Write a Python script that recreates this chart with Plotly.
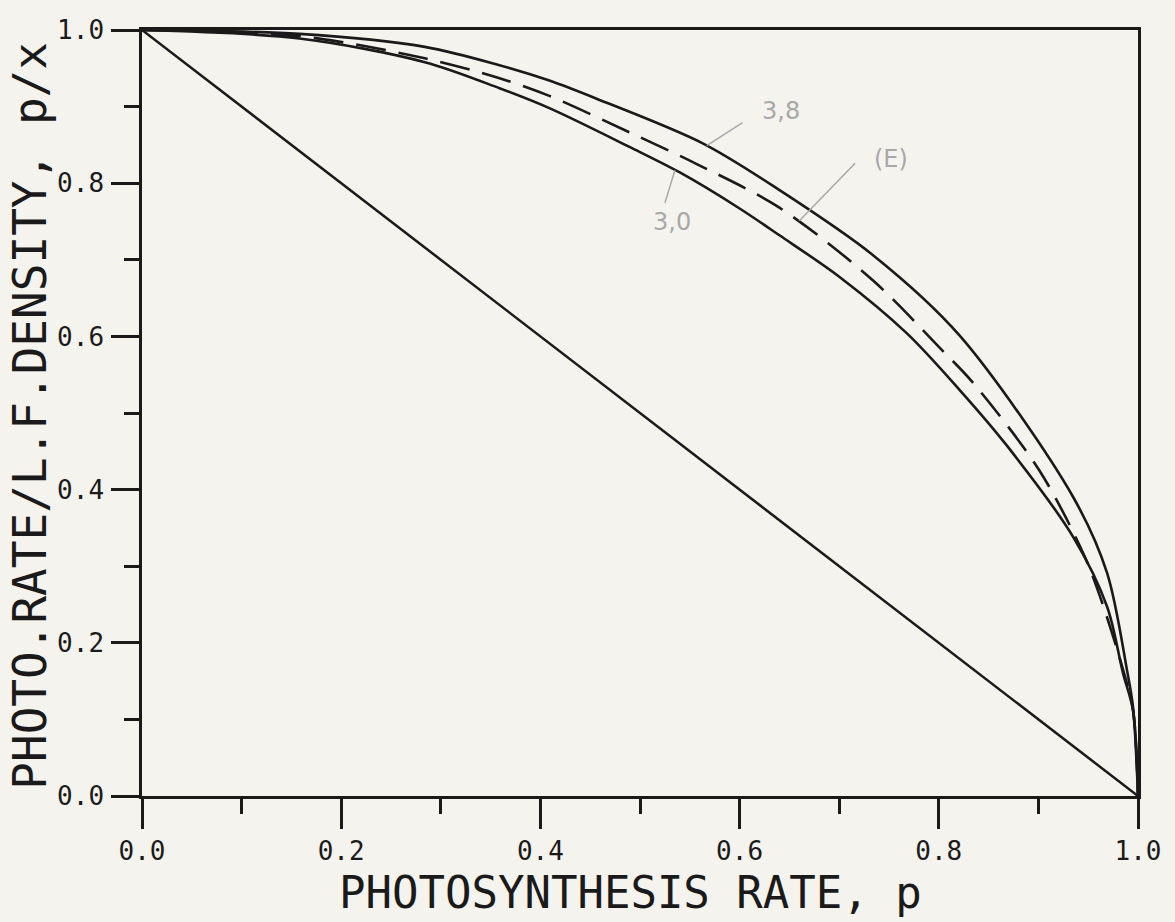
import plotly.graph_objects as go

# ---- data ----
p_line = [0.0, 1.0]
r_line = [1.0, 0.0]

p_38 = [0.0, 0.158, 0.284, 0.359, 0.409, 0.457, 0.563, 0.640, 0.734, 0.821, 0.935, 0.969, 0.989, 0.995, 1.0]
r_38 = [1.0, 0.995, 0.978, 0.954, 0.934, 0.910, 0.852, 0.791, 0.706, 0.601, 0.390, 0.291, 0.164, 0.116, 0.0]

p_E = [0.0, 0.158, 0.284, 0.359, 0.409, 0.490, 0.557, 0.640, 0.734, 0.801, 0.834, 0.901, 0.945, 0.962, 0.985, 0.995, 1.0]
r_E = [1.0, 0.992, 0.963, 0.937, 0.914, 0.866, 0.825, 0.768, 0.673, 0.585, 0.540, 0.425, 0.317, 0.260, 0.165, 0.112, 0.0]

p_30 = [0.0, 0.158, 0.284, 0.359, 0.409, 0.490, 0.540, 0.600, 0.640, 0.701, 0.768, 0.821, 0.868, 0.935, 0.969, 0.985, 0.995, 1.0]
r_30 = [1.0, 0.989, 0.958, 0.924, 0.898, 0.847, 0.814, 0.767, 0.732, 0.677, 0.604, 0.530, 0.458, 0.338, 0.247, 0.160, 0.112, 0.0]

x_ticks = [0.0, 0.2, 0.4, 0.6, 0.8, 1.0]
y_ticks = [0.0, 0.2, 0.4, 0.6, 0.8, 1.0]
tick_text = ["0.0", "0.2", "0.4", "0.6", "0.8", "1.0"]

INK = "#1a1a1a"
PENCIL = "#a8a8a8"
PAPER = "#f5f3ee"
MONO = "DejaVu Sans Mono"

fig = go.Figure()
fig.add_trace(go.Scatter(x=p_line, y=r_line, mode="lines",
                         line=dict(color=INK, width=2.5), showlegend=False))
fig.add_trace(go.Scatter(x=p_38, y=r_38, mode="lines",
                         line=dict(color=INK, width=2.6, shape="spline", smoothing=0.9),
                         showlegend=False))
fig.add_trace(go.Scatter(x=p_E, y=r_E, mode="lines",
                         line=dict(color=INK, width=2.6, shape="spline", smoothing=0.9,
                                   dash="30px,13px"), showlegend=False))
fig.add_trace(go.Scatter(x=p_30, y=r_30, mode="lines",
                         line=dict(color=INK, width=2.6, shape="spline", smoothing=0.9),
                         showlegend=False))

axis_common = dict(
    range=[0, 1], showgrid=False, zeroline=False,
    showline=True, linecolor=INK, linewidth=2.5, mirror=True,
    ticks="outside", tickcolor=INK, tickwidth=2.5,
    tickfont=dict(family=MONO, size=26, color=INK),
    minor=dict(ticks="outside", dtick=0.1, ticklen=15, tickwidth=2.5, tickcolor=INK),
)

fig.update_xaxes(**axis_common, tickvals=x_ticks, ticktext=tick_text, ticklen=30,
                 ticklabelstandoff=0)
fig.update_yaxes(**axis_common, tickvals=y_ticks, ticktext=tick_text, ticklen=28,
                 ticklabelstandoff=2)

# axis titles
fig.add_annotation(text="PHOTOSYNTHESIS RATE, p", xref="paper", yref="paper",
                   x=0.49, y=-0.126, xanchor="center", yanchor="middle", showarrow=False,
                   font=dict(family=MONO, size=44, color=INK))
fig.add_annotation(text="PHOTO.RATE/L.F.DENSITY, p/x", xref="paper", yref="paper",
                   x=-0.112, y=0.497, xanchor="center", yanchor="middle", textangle=-90,
                   showarrow=False, font=dict(family=MONO, size=46, color=INK))

# pencil annotations
for txt, x, y in [("3,8", 0.642, 0.894), ("(E)", 0.752, 0.832), ("3,0", 0.532, 0.749)]:
    fig.add_annotation(text=txt, x=x, y=y, showarrow=False,
                       font=dict(family="DejaVu Sans", size=24, color=PENCIL))
for x0, y0, x1, y1 in [(0.603, 0.879, 0.567, 0.849), (0.716, 0.826, 0.660, 0.751),
                       (0.535, 0.817, 0.525, 0.774)]:
    fig.add_shape(type="line", x0=x0, y0=y0, x1=x1, y1=y1,
                  line=dict(color=PENCIL, width=1.5))

fig.update_layout(
    width=1175, height=922,
    margin=dict(l=142, r=37, t=30, b=126),
    paper_bgcolor=PAPER, plot_bgcolor=PAPER,
    showlegend=False,
)

fig.write_html("out.html")
